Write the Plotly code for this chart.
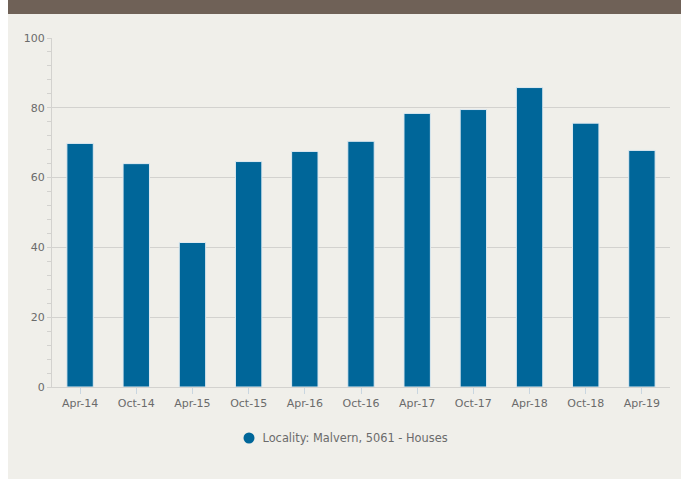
import plotly.graph_objects as go

categories = ["Apr-14", "Oct-14", "Apr-15", "Oct-15", "Apr-16", "Oct-16",
              "Apr-17", "Oct-17", "Apr-18", "Oct-18", "Apr-19"]
values = [69.8, 64.0, 41.4, 64.6, 67.5, 70.4, 78.4, 79.5, 85.8, 75.6, 67.8]
series_name = "Locality: Malvern, 5061 - Houses"

W, H = 687, 479
L, R, T, B = 52, 17, 38, 92
pw = W - L - R
ph = H - T - B

def px(x):
    return (x - L) / pw

def py(y):
    return (H - B - y) / ph

BAR = "#006699"
PANEL = "#f0efea"
GRID = "#d3d2cf"
TXT = "#6b6b6b"

fig = go.Figure()
fig.add_trace(go.Bar(
    x=categories, y=values, name=series_name,
    marker=dict(color=BAR, line=dict(color="#dfeaf1", width=1)),
    width=0.47, showlegend=False,
))
# legend entry (symbol drawn as a shape for exact spacing)
fig.add_trace(go.Scatter(
    x=[None], y=[None], mode="markers", name=series_name,
    marker=dict(color="rgba(0,0,0,0)", size=1, symbol="circle"),
))

fig.update_layout(
    width=W, height=H,
    margin=dict(l=L, r=R, t=T, b=B),
    paper_bgcolor="white",
    plot_bgcolor="rgba(0,0,0,0)",
    font=dict(family="DejaVu Sans", size=11, color=TXT),
    showlegend=True,
    legend=dict(orientation="h", x=px(338), xanchor="center", y=py(438), yanchor="middle",
                font=dict(size=11.4, color=TXT), bgcolor="rgba(0,0,0,0)",
                itemwidth=30),
    shapes=[
        dict(type="rect", xref="paper", yref="paper", layer="below",
             x0=px(8), x1=px(681), y0=py(480), y1=py(14),
             fillcolor=PANEL, line=dict(width=0)),
        dict(type="rect", xref="paper", yref="paper", layer="below",
             x0=px(8), x1=px(681), y0=py(14), y1=py(-2),
             fillcolor="#6f6157", line=dict(width=0)),
        dict(type="circle", xref="paper", yref="paper",
             xsizemode="pixel", ysizemode="pixel",
             xanchor=px(249), yanchor=py(438),
             x0=-5.5, x1=5.5, y0=-5.5, y1=5.5,
             fillcolor=BAR, line=dict(width=0)),
    ],
    bargap=0.5,
)
fig.update_xaxes(
    type="category", range=[-0.5, 10.5],
    showline=True, linecolor=GRID, linewidth=1,
    ticks="outside", ticklen=6, tickcolor="#c9d6e0", tickwidth=1,
    tickfont=dict(size=11, color=TXT), showgrid=False,
)
fig.update_yaxes(
    range=[0, 100], dtick=20, tick0=0,
    showline=True, linecolor=GRID, linewidth=1,
    gridcolor=GRID, gridwidth=1,
    ticks="outside", ticklen=4, tickcolor=GRID,
    tickfont=dict(size=11, color=TXT),
    minor=dict(dtick=4, ticks="outside", ticklen=4, tickcolor=GRID, showgrid=False),
    zeroline=False,
)

fig.write_html("out.html", config={"displayModeBar": False},
               post_script="document.body.style.margin='0px';document.body.style.overflow='hidden';")
